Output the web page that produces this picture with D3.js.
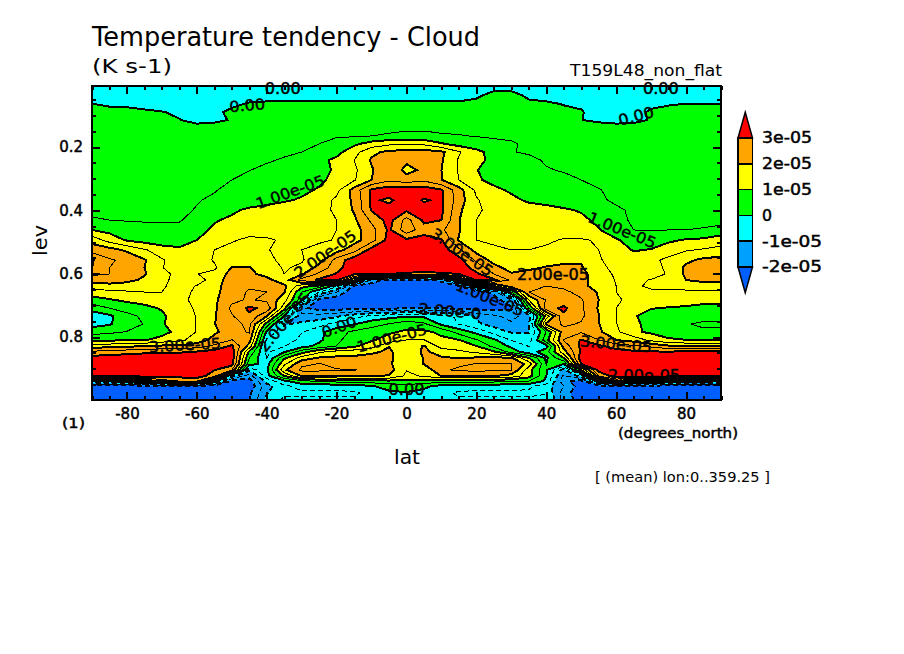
<!DOCTYPE html>
<html><head><meta charset="utf-8">
<script src="https://cdn.jsdelivr.net/npm/d3@7"></script>
<style>html,body{margin:0;padding:0;background:#fff;overflow:hidden}svg{display:block}text{font-family:"DejaVu Sans",sans-serif;fill:#000}</style>
</head><body><svg id="c" width="904" height="654"></svg>
<script>
const lats = d3.range(37).map(i => -90 + i * 5);
const levs = [0.007,0.036,0.064,0.090,0.115,0.140,0.165,0.190,0.216,0.241,0.273,0.304,0.336,0.368,0.399,0.431,0.462,0.494,0.525,0.557,0.582,0.601,0.620,0.639,0.658,0.683,0.709,0.734,0.759,0.784,0.810,0.829,0.847,0.866,0.885,0.904,0.923,0.939,0.955,0.977,1.0];
// zonal mean tendency in 1e-6 K/s, one row per level, one column per latitude
const tendency = [
[-3,-3,-3,-3,-3,-3,-3,-3,-3,-3,-3,-3,-3,-3,-3,-3,-3,-3,-3,-3,-3,-3,-2,-2,-2,-3,-3,-3,-3,-3,-3,-3,-3,-3,-3,-3,-3],
[-2.5,-2.5,-2.5,-2.5,-2.5,-2.5,-2.5,-2.5,-2.5,-2.5,-2.5,-2.5,-2.5,-2.5,-2.5,-2.5,-2.5,-2.5,-2.5,-2.5,-2.5,-2.5,-1,1.5,1.5,-1,-2.5,-2.5,-2.5,-2.5,-2.5,-2.5,-2.5,-2.5,-2.5,-2.5,-2.5],
[0.1,-1,-1,-2,-3,-3,-3,-2.5,-1,0.5,1,1,1,1,1,1,1,1,1,1,1,1,1.5,1.5,1.5,1,1,-0.3,-1,-3,-3,-3,-1.5,-0.5,0.1,0.1,0.1],
[2,2,1.5,1,0.3,-1,-3,-1,1,2,2,2,2,2,2,2,2,2,2.5,2.5,2,2,2,2,2,2,2,1.5,0.5,-3,-3,-2.5,1,2,2,2,2],
[3,3,3,2.5,1.5,0.2,-2,-1.5,0.5,2.5,3,3,3,3,3,3,3,3,3.5,3.5,3,3,3,3,3,3,3,2.5,0.1,-1,-2,-1.5,0.5,3,3,3,3],
[3,3,3,3,3,3,2.5,3,3,3,3,3,3,3.5,3.5,4,4,4,4.5,4.5,4,4,3.5,3.5,3.5,3,3,3,3,2.5,2.5,2.5,3,3,3,3,3],
[3,3,3,3,3,3,3,3,3,3.5,3.5,3.5,4,4,4.5,4.5,5,5.5,5.8,5.8,5.5,5.2,4.8,4.5,4.5,4,3.5,3.5,3.5,3,3,3,3,3,3,3,3],
[3,3,3,3,3,3,3,3,3,3.5,4,4,4.5,5,7,9,12,14,14.5,14,10.5,8,7,6,5.3,4.5,4,3.5,3.5,3,3,3,3,3,3,3,3],
[3.5,3.5,3.5,3.5,3.5,3.5,3.5,3.5,3.5,3.5,4,4.3,5,6.5,8.5,13,19,21,22,22,21,15.5,11.5,8,5.2,4.5,4,3.5,3.5,3,3,3,3,3,3,3,3],
[3.5,3.5,3.5,3.5,3.5,3.5,3.5,3.5,3.5,4,4.5,5.4,7,8.8,11,15,20.5,24,21,24,20.5,14.5,11.5,8.5,7.5,6,4.5,4,4,3.5,3.5,3.5,3.5,3.5,3.5,3.5,3.5],
[3.5,3.5,3.5,3.5,3.5,3.5,3.5,3.5,4.5,4.9,6,7,7.5,8.5,10.7,14,19.5,24,18.5,21,20,14.5,10.1,9,8,7,5.3,4.7,4,3.5,3.5,3.5,3.5,3.5,3.5,3.5,3.5],
[3.5,3.5,3.5,3.5,3.5,3.5,4,4.3,5,6,6.8,7.5,8,9,11.5,14.5,20,24,22,24,20.2,15,10.5,9,8.5,8,7,6,5,4.5,4,4,4,4,4,4,4],
[4,4,4,4,4,4,4,4.8,5.8,6.8,7.5,8,9,10.5,13.5,22,31,33,34,33,30.5,22,14,10.8,9.5,8.5,8,7,6,5.1,4.5,4,4,4,4,4,4],
[4,4,4,4,4,4.5,4.8,5.5,6.3,7,8,9.5,10.5,12.5,16,21,31,29,33,29.5,31,22.5,15.5,12.5,10.8,9.5,9,8,7,5.5,4.5,4,4,4,4,4,4],
[4,4,4,4,4,4.3,5.2,6.5,9,11,12,12.5,12.5,13,16,20.5,30.5,32,31,32,31,21,15.5,14,13,11.5,11,10.5,9.6,7.5,5.5,4.5,4,4,4,4,4],
[5.5,5,4.7,4.5,4.5,4.6,7,9.5,11,12,13,13.5,13.5,14,15,19,26,32,23,31,30,20.2,15,13.5,13,12.5,12,11.5,11,9,6,4.5,4,3.8,3.8,4,4],
[10,8.5,7.5,7,6.5,6.5,8,11,12,13,13.5,14,14,14,15,18,23,31,22,28,26,20.5,15,13,13,13,12.5,12,12,10.3,7.5,5,4.8,5,5,5.3,6],
[18,13,9.5,8,7,7.5,10,12,14.5,16,15.5,14.5,14,14.5,15.2,18,23,32,31,32,30.5,19.5,15,14.5,13,13,14,15.5,15.5,14.5,10.5,8,8,9,10.5,11,13.5],
[23,22,19,15.5,12.5,11,12.5,15,16.5,17,15.2,14,15,16,18,23,32,33,33,33,33,26,18,15.5,15,15,16,17,16.5,15,12,9.7,10.2,13,14.5,15.5,16],
[30.5,25.5,24,20.5,15.5,12.5,12,15.5,17,18,15.5,14.5,14.5,18,27,33,33,34,34,34,33,32,24,18,15.5,15,18,19,19.5,15.5,13,12,14,16,19,21,22],
[30,25,24.5,20,15.2,13,12.5,14,20.3,20.3,18,14.5,16,22,28,34,34,34,34,34,34,33,28,22,18,19,20.5,21,20.5,16,14,12.5,13,16,21,23,23],
[26,25,23,20.5,16,14,14.8,17,21.5,21,18.5,15,19.5,26,30.5,31,31,30,29,28,29,30,31,25,20.5,22,23,23,22,16.5,14.5,13,13,15.5,21,24,24],
[22,23,21.5,19,16,13.5,13,17,23,23.5,21.5,17,27,31,31,15,-15,-24,-24,-24,-18,12,31,31,24,24,24,24,22,17,14.8,14,15.2,17,20,21.5,21],
[17,18,17.5,16.5,15.5,13.5,15.2,18,23,24.5,23,21,12,8,-3,-22,-24,-24,-24,-24,-24,-21,3,14,23,24.5,25,24,22,17,15,14,16,16.5,17,17.2,18],
[12.5,14,14.5,15,15,14,15.5,18.5,23,25.5,25,20.5,5,-5,-15,-24,-24,-24,-24,-24,-24,-24,-24,-18,5,25,26,26,23.5,19.5,15,14.5,14,14,14,14,14],
[8,9.5,11,12,13,14.5,15.5,19,24,25.5,24,17,2,-22,-24,-24,-24,-24,-24,-24,-24,-24,-24,-23,-15,15,25.5,27,25.5,20,15.5,14,13,12.5,11.5,11,11],
[2,5,7,8.5,10.5,14,15.3,19,26,31,28.5,12,-19,-22,-22,-22,-21,-21,-20.5,-20.3,-20.5,-21,-22,-22,-21,5,28,31,26,19.5,15,12,10.2,9.7,9.5,9,9],
[-3,-1,3.5,6,9,13,15.2,19.5,24.5,29,20.2,0.1,-13,-13,-11,-7,-4,-2,-0.5,-1,-3,-6,-11,-14,-17,-12,12,29,26,20.2,15.2,10.5,8,7,6.5,6,6],
[-2,-0.5,3,5.2,9.5,12.5,15.2,19.8,23.5,26,8,-10.5,-9,-7,-3,-0.3,3,5.2,8,6,-1,-5.2,-9,-12,-14,-10.5,21,26,24.5,20.2,15.2,11,8.5,6,5.2,4.5,4.5],
[3,4,5.2,6.5,8,12,15.2,19,23,25.5,-1,-8,-5.2,-1.5,3,6,7.5,9.3,10.8,11,9,3,-1.5,-7,-10.5,-10.5,5.2,23,24.5,21,16,11,9,7,6,5.5,5.5],
[9.5,9.5,9.5,9.7,12,14,17,22,25.2,22,-6,-7,-4,-1,4,7.5,9.5,12,15.2,15.2,11,10.3,5.5,1,-5.2,-7,8,25.2,30.5,25.2,20.2,18,14,11,10.2,9.7,9.7],
[18,18,19,20.2,21,21,23,26,31,18,-8,-5.2,-2,1.5,5.2,9,13,19.8,15.2,20.5,13,12.5,10.2,3.5,-1,-5.2,-2,22,31,31,28,26,24,21,20.2,20.2,20.2],
[26,27,28,29,29.5,29.5,30.5,32,33,9,-6,-0.5,8,14,17,18,19,21,16,21,18,16,14,10.8,3,-3,3,18,31,33,32,31,30.5,30.5,31,31,31],
[32,33,33,33,33,33,34,34,33,5.2,-5.2,9,17,20.5,21,21,22,21.5,15.2,20.3,20.5,19.8,20.5,21,20.5,10.2,-1,10.2,33,34,33,33,33,33,33,33,33],
[33,33,33,33,33,33,33,33,32,2,-2,14,24,25.2,24,23,23,21,15.2,20.2,23,24,25.2,25.2,25.2,18,0.1,0.1,30.2,34,33,33,33,33,33,33,33],
[32,32,32,32,32,32,33,30.2,25.2,-8,-1,19,26,26,25.2,25.2,24,22,15.2,16.5,24,26,26,26,25.2,12,0.5,-12,10.2,32,33,33,33,33,33,33,33],
[31,31,32,32,32,32,33,27,-8,-18,-2,10.2,20.5,20.5,20.5,21,21,19.5,14,15.5,20.2,20.3,20.5,20.3,18,12,0.1,-16,-8,25.2,33,33,33,33,33,33,32],
[0.1,2,7,15.2,22,25.2,25.2,5.2,-22,-22,-8,-1,4,6,7,8,8,9,9,9,7,7,7,7,6,5.2,-1,-19,-22,5.2,20.2,15.2,10.2,5.2,3,0.1,-2],
[-24,-24,-24,-24,-24,-24,-24,-24,-24,-24,-12,-6,-3,-3,-3,-2,-0.5,2,3,1,-1.5,-2,-3,-3,-3,-4,-8,-15,-23,-23,-21,-22,-23,-24,-24,-24,-24],
[-24,-24,-24,-24,-24,-24,-24,-24,-24,-21,-10.5,-6,-6,-6,-6,-6,-3,-1,-0.5,-1.5,-3,-6,-6,-6,-6,-6,-5.2,-18,-23,-24,-24,-24,-24,-24,-24,-24,-24],
[-24,-24,-24,-24,-24,-24,-24,-24,-24,-20.5,-8,-4,-4,-4,-4,-4,-4,-3,-3,-3,-4,-4,-4,-4,-4,-4,-4,-17,-22,-24,-24,-24,-24,-24,-24,-24,-24]
];
const fillLevels = [-20,-10,0,10,20,30];
const fillColors = ["#0060ff","#00a0ff","#00ffff","#00ff00","#ffff00","#ffa500","#ff0000"];
const lineLevels = [-20,-15,-10,-5,0,5,10,15,20,25,30];
const legendLabels = ["3e-05","2e-05","1e-05","0","-1e-05","-2e-05"];
const latTicks = [-80,-60,-40,-20,0,20,40,60,80];
const latMinor = d3.range(-90,91,5);
const levTicks = [0.2,0.4,0.6,0.8];
const levMinor = d3.range(0.05,1,0.05);
const labelTexts = ["0.00","0.00","0.00","0.00","1.00e-05","1.00e-05","2.00e-05","3.00e-05","2.00e-05","2.00e-05","3.00e-05","3.00e-05","1.00e-05","2.00e-0","0.00","1.00e-05","0.00","2.00e-05"];
const labelLats = [-35.4,-45.6,72.8,65.7,-33.3,61.7,-23.3,15.9,41.9,-35,-63.4,60,23.9,12.4,-19.3,-4.2,0,68];
const labelLevs = [0.014,0.068,0.014,0.102,0.342,0.462,0.538,0.532,0.604,0.753,0.825,0.822,0.677,0.718,0.768,0.803,0.967,0.923];
const labelAngles = [0,-5,0,-15,-20,22,-35,35,0,-50,-3,5,22,5,-20,-15,0,0];

const svg = d3.select("#c");
const L=92,R=721,T=86,B=400;
const x = d3.scaleLinear().domain([-90,90]).range([L,R]);
const y = d3.scaleLinear().domain([0.2,0.8]).range([147,337]);
const n = lats.length, m = levs.length;
const xi = d3.scaleLinear().domain(d3.range(n)).range(lats).clamp(true);
const yi = d3.scaleLinear().domain(d3.range(m)).range(levs).clamp(true);
const grid = tendency.flat();
const proj = d3.geoTransform({point(px,py){ this.stream.point(x(xi(px-0.5)), y(yi(py-0.5))); }});
const path = d3.geoPath(proj);
const contours = d3.contours().size([n,m]);
const heavy = t => t.attr("stroke","#000").attr("stroke-width",0.45);

svg.append("clipPath").attr("id","plot").append("rect").attr("x",L).attr("y",T).attr("width",R-L).attr("height",B-T);
const plot = svg.append("g").attr("clip-path","url(#plot)");
plot.append("rect").attr("x",L).attr("y",T).attr("width",R-L).attr("height",B-T).attr("fill",fillColors[0]);
fillLevels.forEach((lv,i)=>{
  plot.append("path").attr("d",path(contours.contour(grid,lv))).attr("fill",fillColors[i+1]).attr("shape-rendering","crispEdges");
});
lineLevels.forEach(lv=>{
  const major = lv % 10 === 0;
  plot.append("path").attr("d",path(contours.contour(grid,lv))).attr("fill","none").attr("stroke","#000")
    .attr("stroke-width",major?2:1).attr("stroke-dasharray",lv<0?"5 3":null).attr("shape-rendering","crispEdges");
});
// contour labels
labelTexts.forEach((t,i)=>{
  svg.append("text").attr("transform",`translate(${x(labelLats[i])},${y(labelLevs[i])}) rotate(${labelAngles[i]})`)
    .attr("text-anchor","middle").attr("dy","0.36em").attr("font-size",15).text(t)
    .attr("textLength",t.length*9).attr("lengthAdjust","spacingAndGlyphs").call(heavy);
});
// frame + axes
function ax(axis,tx,ty,size,vals,fmt){
  const g = svg.append("g").attr("transform",`translate(${tx},${ty})`).call(axis.tickValues(vals).tickSize(size).tickFormat(fmt||""));
  g.select(".domain").remove();
  g.selectAll("line").attr("stroke","#000").attr("stroke-width",2).attr("shape-rendering","crispEdges");
  return g;
}
ax(d3.axisBottom(x),0,B,-4,latMinor); ax(d3.axisTop(x),0,T,-4,latMinor);
ax(d3.axisLeft(y),L,0,-4,levMinor); ax(d3.axisRight(y),R,0,-4,levMinor);
ax(d3.axisTop(x),0,T,-8,latTicks); ax(d3.axisRight(y),R,0,-8,levTicks);
const gx = ax(d3.axisBottom(x),0,B,-8,latTicks,d=>String(d));
const gy = ax(d3.axisLeft(y),L,0,-8,levTicks,d=>d3.format(".1f")(d));
gx.selectAll("text").attr("y",8).attr("dy","0.71em").attr("font-size",15).attr("font-family","DejaVu Sans").call(heavy);
gy.selectAll("text").attr("x",-9).attr("font-size",15).attr("font-family","DejaVu Sans").call(heavy);
svg.append("rect").attr("x",L).attr("y",T).attr("width",R-L).attr("height",B-T).attr("fill","none").attr("stroke","#000").attr("stroke-width",2.5).attr("shape-rendering","crispEdges");

// text
function txt(s,px,py,size,len,extra){
  const t = svg.append("text").attr("x",px).attr("y",py).attr("font-size",size).text(s);
  if(len) t.attr("textLength",len).attr("lengthAdjust","spacingAndGlyphs");
  if(extra) extra(t);
  return t;
}
txt("Temperature tendency - Cloud",92,46,26,388);
txt("(K s-1)",92,73,19,80);
txt("T159L48_non_flat",570,76,15,152);
txt("(1)",62,428,14,23,heavy);
txt("(degrees_north)",618,438,14,120,heavy);
txt("lat",394,464,20,26);
txt("[ (mean) lon:0..359.25 ]",595,482,14,175);
svg.append("text").attr("transform","translate(47,256) rotate(-90)").attr("font-size",20).attr("textLength",31).attr("lengthAdjust","spacingAndGlyphs").text("lev");

// colour bar
const barX0=738, barX1=752.5;
const cb = d3.scalePoint().domain(legendLabels).range([138,267]);
const step = cb.step();
const mid=(barX0+barX1)/2;
svg.append("path").attr("d",d3.line()([[barX0,cb(legendLabels[0])],[mid,cb(legendLabels[0])-step],[barX1,cb(legendLabels[0])]])+"Z").attr("fill",fillColors[6]).attr("stroke","#000").attr("stroke-width",1.5);
svg.append("path").attr("d",d3.line()([[barX0,cb(legendLabels[5])],[mid,cb(legendLabels[5])+step],[barX1,cb(legendLabels[5])]])+"Z").attr("fill",fillColors[0]).attr("stroke","#000").attr("stroke-width",1.5);
legendLabels.slice(0,5).forEach((l,i)=>{
  svg.append("rect").attr("x",barX0).attr("y",cb(l)).attr("width",barX1-barX0).attr("height",step).attr("fill",fillColors[5-i]).attr("stroke","#000").attr("stroke-width",1.5).attr("shape-rendering","crispEdges");
});
legendLabels.forEach(l=>{
  svg.append("text").attr("x",762).attr("y",cb(l)).attr("dy","0.36em").attr("font-size",15).attr("textLength",l==="0"?10:l.length*10).attr("lengthAdjust","spacingAndGlyphs").text(l).call(heavy);
});
</script></body></html>
